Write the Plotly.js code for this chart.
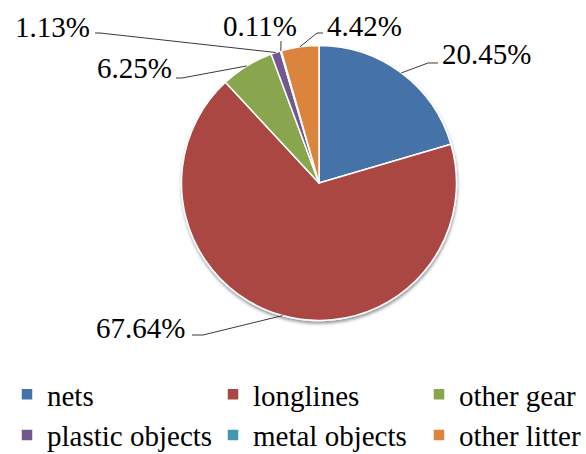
<!DOCTYPE html>
<html>
<head>
<meta charset="utf-8">
<script src="https://cdn.plot.ly/plotly-3.0.1.min.js"></script>
<style>
  html, body { margin: 0; padding: 0; background: #fff; overflow: hidden; }
  #chart { width: 640px; height: 480px; }
</style>
</head>
<body>
<div id="chart"></div>
<script>
// Share of items by category (percent)
const categories = ['nets', 'longlines', 'other gear', 'plastic objects', 'metal objects', 'other litter'];
const shares = [20.45, 67.64, 6.25, 1.13, 0.11, 4.42];
const sliceColors = ['#4572A7', '#AA4643', '#89A54E', '#71588F', '#4198AF', '#DB843D'];

// Canvas and pie geometry (pixels, origin top-left)
const W = 640, H = 480;
const CX = 319, CY = 183, R = 137.5;
const FONT = 'Liberation Serif';
const FS = 29;

// Where each data label sits: bend of its leader line, end of the leader,
// and the text anchor point.
const labelPlacement = [
  { bend: [428, 63], end: [438, 63], text: [441, 54], anchor: 'left' },
  { bend: [203, 335], end: [192, 335], text: [186, 327.5], anchor: 'right' },
  { bend: [182, 78], end: [176, 78], text: [173, 67.5], anchor: 'right' },
  { bend: [100, 33], end: [95, 33], text: [91, 27], anchor: 'right' },
  { bend: [281, 41], end: [281, 41], text: [260, 26], anchor: 'center' },
  { bend: [317, 33], end: [323, 33], text: [326, 26], anchor: 'left' }
];

const px = x => x / W;
const py = y => 1 - y / H;

// Outer-edge point at the middle of each slice (clockwise from 12 o'clock)
const total = shares.reduce((a, b) => a + b, 0);
let cum = 0;
const edgePoints = shares.map(v => {
  const mid = (cum + v / 2) / total * 2 * Math.PI;
  cum += v;
  return [CX + R * Math.sin(mid), CY - R * Math.cos(mid)];
});

const shapes = [];
const annotations = [];
shares.forEach((v, i) => {
  const p = labelPlacement[i];
  const s = edgePoints[i];
  const pts = [s, p.bend, p.end];
  const path = pts.map((q, k) => (k ? 'L' : 'M') + px(q[0]).toFixed(5) + ',' + py(q[1]).toFixed(5)).join(' ');
  shapes.push({
    type: 'path', xref: 'paper', yref: 'paper', path: path,
    line: { color: '#3a3a3a', width: 1 }
  });
  annotations.push({
    xref: 'paper', yref: 'paper',
    x: px(p.text[0]), y: py(p.text[1]),
    xanchor: p.anchor, yanchor: 'middle',
    text: v.toFixed(2) + '%', showarrow: false, borderpad: 0,
    font: { family: FONT, size: FS, color: '#000' }
  });
});

const trace = {
  type: 'pie',
  labels: categories,
  values: shares,
  sort: false,
  direction: 'clockwise',
  rotation: 0,
  textinfo: 'none',
  hoverinfo: 'label+percent',
  marker: { colors: sliceColors, line: { color: '#ffffff', width: 1.5 } },
  domain: { x: [px(CX - R), px(CX + R)], y: [py(CY + R), py(CY - R)] }
};

const layout = {
  width: W, height: H,
  margin: { l: 0, r: 0, t: 0, b: 0, autoexpand: false },
  paper_bgcolor: '#ffffff',
  font: { family: FONT, size: FS, color: '#000' },
  showlegend: true,
  legend: {
    orientation: 'h',
    x: px(7), xanchor: 'left',
    y: py(369), yanchor: 'top',
    entrywidth: 161, entrywidthmode: 'pixels',
    itemwidth: 30,
    font: { family: FONT, size: FS, color: '#000' },
    bgcolor: 'rgba(0,0,0,0)'
  },
  shapes: shapes,
  annotations: annotations
};

Plotly.newPlot('chart', [trace], layout, { displayModeBar: false, staticPlot: true }).then(gd => {
  // soft drop shadow under the pie
  const svg = gd.querySelector('.main-svg');
  const ns = 'http://www.w3.org/2000/svg';
  const defs = document.createElementNS(ns, 'defs');
  const filter = document.createElementNS(ns, 'filter');
  filter.setAttribute('id', 'pie-shadow');
  filter.setAttribute('x', '-10%'); filter.setAttribute('y', '-10%');
  filter.setAttribute('width', '120%'); filter.setAttribute('height', '120%');
  const ds = document.createElementNS(ns, 'feDropShadow');
  ds.setAttribute('dx', '0.5'); ds.setAttribute('dy', '2.5');
  ds.setAttribute('stdDeviation', '1.8');
  ds.setAttribute('flood-color', '#000'); ds.setAttribute('flood-opacity', '0.4');
  filter.appendChild(ds); defs.appendChild(filter);
  svg.insertBefore(defs, svg.firstChild);
  gd.querySelectorAll('.pielayer .trace').forEach(g => g.setAttribute('filter', 'url(#pie-shadow)'));
});
</script>
</body>
</html>
